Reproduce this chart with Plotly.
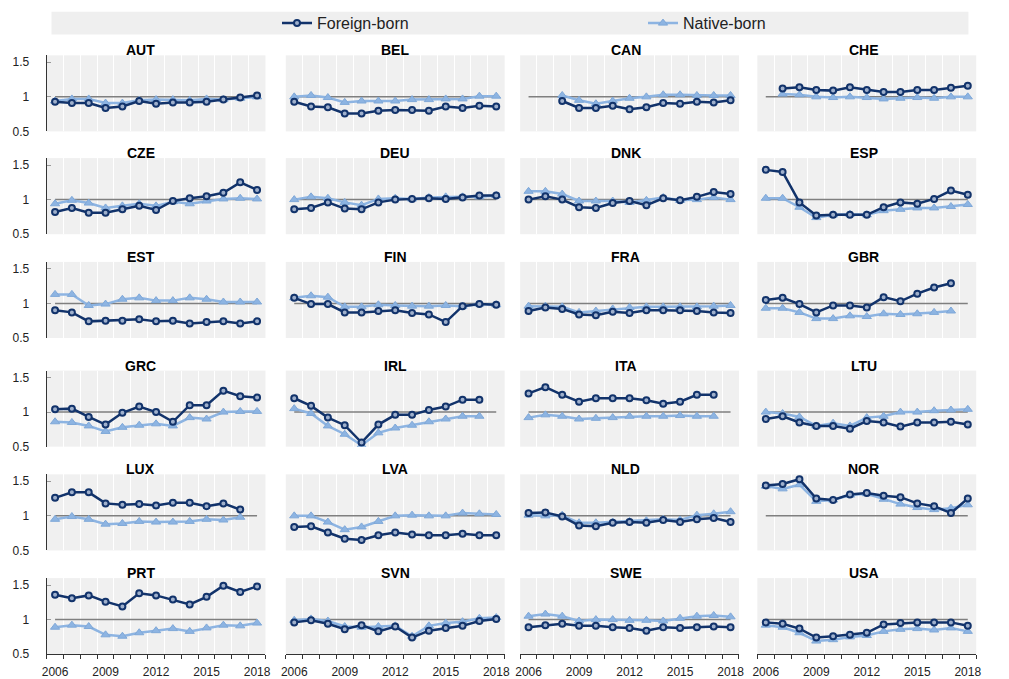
import plotly.graph_objects as go

W, H = 1009, 679

YEARS = list(range(2006, 2019))
COUNTRIES = ["AUT", "BEL", "CAN", "CHE", "CZE", "DEU", "DNK", "ESP",
             "EST", "FIN", "FRA", "GBR", "GRC", "IRL", "ITA", "LTU",
             "LUX", "LVA", "NLD", "NOR", "PRT", "SVN", "SWE", "USA"]
REF_LEVEL = 1.0
Y_TICKS = [0.5, 1, 1.5]
Y_TICK_TEXT = ["0.5", "1", "1.5"]
X_TICKS = [2006, 2009, 2012, 2015, 2018]

AUT_FOREIGN = [0.93, 0.91, 0.91, 0.84, 0.86, 0.94, 0.90, 0.92, 0.92, 0.93, 0.96, 0.99, 1.02]
AUT_NATIVE = [0.94, 0.97, 0.97, 0.91, 0.91, 0.95, 0.96, 0.96, 0.95, 0.97, 0.96, 0.98, 1.00]
BEL_FOREIGN = [0.93, 0.86, 0.85, 0.76, 0.76, 0.80, 0.81, 0.81, 0.80, 0.86, 0.84, 0.87, 0.86]
BEL_NATIVE = [1.00, 1.02, 0.99, 0.92, 0.94, 0.94, 0.94, 0.96, 0.96, 0.97, 0.97, 1.01, 1.01]
CAN_FOREIGN = [None, None, 0.94, 0.84, 0.84, 0.87, 0.82, 0.85, 0.91, 0.90, 0.93, 0.92, 0.95]
CAN_NATIVE = [None, None, 1.02, 0.95, 0.90, 0.94, 0.98, 1.00, 1.03, 1.03, 1.02, 1.02, 1.02]
CHE_FOREIGN = [None, 1.12, 1.14, 1.10, 1.09, 1.14, 1.10, 1.07, 1.07, 1.10, 1.10, 1.13, 1.16]
CHE_NATIVE = [None, 1.04, 1.03, 1.00, 0.99, 1.00, 0.99, 0.97, 0.98, 0.99, 0.98, 1.00, 1.00]
CZE_FOREIGN = [0.82, 0.88, 0.81, 0.81, 0.86, 0.91, 0.85, 0.98, 1.02, 1.05, 1.10, 1.25, 1.14]
CZE_NATIVE = [0.94, 0.99, 0.95, 0.88, 0.91, 0.94, 0.91, 0.97, 0.94, 0.98, 1.01, 1.02, 1.01]
DEU_FOREIGN = [0.86, 0.88, 0.96, 0.87, 0.86, 0.96, 1.00, 1.01, 1.02, 1.01, 1.03, 1.06, 1.06]
DEU_NATIVE = [1.00, 1.04, 1.02, 0.96, 0.92, 1.01, 1.02, 1.01, 1.03, 1.04, 1.04, 1.04, 1.06]
DNK_FOREIGN = [1.00, 1.05, 1.00, 0.89, 0.88, 0.95, 0.98, 0.92, 1.02, 0.99, 1.04, 1.11, 1.08]
DNK_NATIVE = [1.12, 1.12, 1.08, 0.98, 0.98, 0.98, 0.96, 0.99, 1.03, 0.99, 1.00, 1.03, 1.00]
ESP_FOREIGN = [1.43, 1.40, 0.96, 0.77, 0.78, 0.78, 0.78, 0.89, 0.96, 0.94, 1.01, 1.13, 1.07]
ESP_NATIVE = [1.02, 1.02, 0.89, 0.74, 0.78, 0.79, 0.78, 0.84, 0.86, 0.88, 0.88, 0.90, 0.93]
EST_FOREIGN = [0.90, 0.87, 0.74, 0.75, 0.75, 0.77, 0.74, 0.75, 0.71, 0.73, 0.74, 0.71, 0.74]
EST_NATIVE = [1.13, 1.13, 0.97, 0.99, 1.06, 1.08, 1.04, 1.04, 1.08, 1.06, 1.02, 1.02, 1.02]
FIN_FOREIGN = [1.08, 0.99, 0.99, 0.87, 0.87, 0.89, 0.90, 0.86, 0.84, 0.73, 0.96, 0.99, 0.98]
FIN_NATIVE = [1.08, 1.11, 1.09, 0.95, 0.95, 0.98, 0.97, 0.96, 0.96, 0.97, 0.96, 0.99, 0.98]
FRA_FOREIGN = [0.89, 0.94, 0.92, 0.84, 0.83, 0.88, 0.86, 0.90, 0.90, 0.90, 0.89, 0.87, 0.86]
FRA_NATIVE = [0.96, 0.96, 0.95, 0.87, 0.89, 0.92, 0.94, 0.95, 0.95, 0.95, 0.95, 0.96, 0.97]
GBR_FOREIGN = [1.05, 1.08, 0.99, 0.87, 0.97, 0.97, 0.94, 1.09, 1.03, 1.14, 1.23, 1.29, None]
GBR_NATIVE = [0.93, 0.93, 0.87, 0.78, 0.78, 0.82, 0.81, 0.85, 0.84, 0.85, 0.87, 0.89, None]
GRC_FOREIGN = [1.04, 1.05, 0.93, 0.82, 0.99, 1.08, 1.00, 0.86, 1.10, 1.10, 1.31, 1.23, 1.21]
GRC_NATIVE = [0.86, 0.85, 0.80, 0.72, 0.78, 0.81, 0.83, 0.80, 0.92, 0.90, 1.00, 1.01, 1.01]
IRL_FOREIGN = [1.20, 1.09, 0.92, 0.81, 0.56, 0.82, 0.96, 0.96, 1.03, 1.08, 1.18, 1.18, None]
IRL_NATIVE = [1.05, 0.98, 0.80, 0.68, 0.52, 0.70, 0.77, 0.81, 0.86, 0.90, 0.94, 0.94, None]
ITA_FOREIGN = [1.27, 1.36, 1.25, 1.15, 1.20, 1.20, 1.20, 1.17, 1.12, 1.15, 1.25, 1.25, None]
ITA_NATIVE = [0.92, 0.96, 0.94, 0.90, 0.91, 0.92, 0.94, 0.94, 0.94, 0.95, 0.94, 0.94, None]
LTU_FOREIGN = [0.90, 0.94, 0.85, 0.80, 0.80, 0.76, 0.87, 0.85, 0.79, 0.85, 0.85, 0.86, 0.82]
LTU_NATIVE = [1.00, 0.98, 0.93, 0.80, 0.84, 0.80, 0.92, 0.94, 1.00, 1.00, 1.02, 1.03, 1.04]
LUX_FOREIGN = [1.26, 1.34, 1.34, 1.18, 1.16, 1.17, 1.15, 1.19, 1.19, 1.14, 1.18, 1.09, None]
LUX_NATIVE = [0.95, 0.99, 0.95, 0.88, 0.89, 0.92, 0.91, 0.91, 0.92, 0.95, 0.94, 0.98, None]
LVA_FOREIGN = [0.84, 0.85, 0.76, 0.67, 0.65, 0.72, 0.76, 0.73, 0.72, 0.72, 0.74, 0.72, 0.72]
LVA_NATIVE = [1.00, 1.00, 0.91, 0.80, 0.84, 0.92, 1.00, 1.01, 1.00, 1.00, 1.04, 1.03, 1.02]
NLD_FOREIGN = [1.04, 1.05, 0.99, 0.86, 0.85, 0.90, 0.91, 0.90, 0.94, 0.91, 0.95, 0.97, 0.91]
NLD_NATIVE = [1.01, 1.00, 1.01, 0.90, 0.90, 0.91, 0.92, 0.93, 0.95, 0.94, 1.01, 1.03, 1.06]
NOR_FOREIGN = [1.44, 1.46, 1.53, 1.25, 1.23, 1.31, 1.33, 1.29, 1.27, 1.18, 1.14, 1.04, 1.25]
NOR_NATIVE = [1.43, 1.39, 1.45, 1.21, 1.23, 1.30, 1.32, 1.24, 1.17, 1.12, 1.09, 1.11, 1.16]
PRT_FOREIGN = [1.36, 1.31, 1.35, 1.26, 1.19, 1.38, 1.35, 1.29, 1.22, 1.33, 1.49, 1.40, 1.48]
PRT_NATIVE = [0.89, 0.92, 0.90, 0.78, 0.76, 0.81, 0.84, 0.87, 0.83, 0.88, 0.92, 0.91, 0.95]
SVN_FOREIGN = [0.96, 0.99, 0.94, 0.86, 0.92, 0.83, 0.90, 0.74, 0.84, 0.88, 0.91, 0.98, 1.01]
SVN_NATIVE = [0.99, 1.01, 0.98, 0.90, 0.89, 0.90, 0.91, 0.76, 0.91, 0.95, 0.97, 1.02, 1.03]
SWE_FOREIGN = [0.89, 0.92, 0.94, 0.91, 0.91, 0.89, 0.88, 0.84, 0.89, 0.88, 0.89, 0.90, 0.89]
SWE_NATIVE = [1.05, 1.08, 1.05, 0.98, 1.00, 1.00, 0.99, 0.99, 0.98, 1.02, 1.05, 1.06, 1.04]
USA_FOREIGN = [0.96, 0.94, 0.87, 0.74, 0.76, 0.78, 0.81, 0.93, 0.95, 0.96, 0.96, 0.96, 0.91]
USA_NATIVE = [0.92, 0.89, 0.81, 0.69, 0.71, 0.75, 0.77, 0.83, 0.86, 0.87, 0.85, 0.88, 0.83]

g = globals()
FOREIGN = [g[c + "_FOREIGN"] for c in COUNTRIES]
NATIVE = [g[c + "_NATIVE"] for c in COUNTRIES]

DARK = "#12336B"
LIGHT = "#8DB4E2"
REF_COLOR = "#7F7F7F"
FONT = "Liberation Sans, Arial, sans-serif"

COL_X0 = [43, 290, 532, 777]
COL_W = 226
ROW_BOTTOM = [133, 237, 342, 452, 557, 662]
ROW_H = 77
TITLE_X = [140, 403, 641, 887]

fig = go.Figure()
layout = {}
annotations = []

for i, c in enumerate(COUNTRIES):
    r, col = divmod(i, 4)
    n = i + 1
    xa = "x" if n == 1 else f"x{n}"
    ya = "y" if n == 1 else f"y{n}"
    first = (i == 0)
    fig.add_trace(go.Scatter(x=YEARS, y=[REF_LEVEL] * len(YEARS), mode="lines",
                             line=dict(color=REF_COLOR, width=1.5),
                             xaxis=xa, yaxis=ya, showlegend=False, hoverinfo="skip"))
    fig.add_trace(go.Scatter(x=YEARS, y=NATIVE[i], mode="lines+markers", name="Native-born",
                             line=dict(color=LIGHT, width=2.5),
                             marker=dict(symbol="triangle-up", size=8, color=LIGHT,
                                         line=dict(color="#7FA8D8", width=1)),
                             xaxis=xa, yaxis=ya, showlegend=first, legendrank=2))
    fig.add_trace(go.Scatter(x=YEARS, y=FOREIGN[i], mode="lines+markers", name="Foreign-born",
                             line=dict(color=DARK, width=2.5),
                             marker=dict(symbol="circle", size=6, color="#9FB0CC",
                                         line=dict(color=DARK, width=2)),
                             xaxis=xa, yaxis=ya, showlegend=first, legendrank=1))

    x0 = COL_X0[col]
    yb = ROW_BOTTOM[r]
    bottom = (r == 5)
    left = (col == 0)
    layout["xaxis" if n == 1 else f"xaxis{n}"] = dict(
        domain=[x0 / W, (x0 + COL_W) / W], anchor=ya, range=[2005.5, 2018.5],
        showgrid=False, zeroline=False, tickvals=X_TICKS,
        ticktext=[str(v) for v in X_TICKS],
        showticklabels=bottom, showline=bottom, linecolor="#333333", linewidth=1,
        ticks="outside" if bottom else "", ticklen=0, ticklabelstandoff=6,
        tickfont=dict(size=12, color="#222222", family=FONT),
        minor=dict(tick0=2005.5, dtick=1, showgrid=True, gridcolor="white", gridwidth=1,
                   ticks="outside" if bottom else "", ticklen=4, tickcolor="#333333"),
        fixedrange=True)
    layout["yaxis" if n == 1 else f"yaxis{n}"] = dict(
        domain=[1 - yb / H, 1 - (yb - ROW_H) / H], anchor=xa, range=[0.5, 1.6],
        showgrid=False, zeroline=False, tickvals=Y_TICKS, ticktext=Y_TICK_TEXT,
        showticklabels=left, showline=left, linecolor="#333333", linewidth=1,
        ticks="inside" if left else "", ticklen=4, tickcolor="#999999",
        ticklabelstandoff=14,
        tickfont=dict(size=12, color="#222222", family=FONT), fixedrange=True)
    annotations.append(dict(text=f"<b>{c}</b>", x=TITLE_X[col] / W, y=1 - (yb - ROW_H - 5) / H,
                            xref="paper", yref="paper", showarrow=False,
                            xanchor="center", yanchor="middle",
                            font=dict(size=14, color="#000000", family=FONT)))

fig.update_layout(
    width=W, height=H, margin=dict(l=0, r=0, t=0, b=0),
    paper_bgcolor="white", plot_bgcolor="#F0F0F0",
    font=dict(family=FONT),
    annotations=annotations,
    shapes=[dict(type="rect", xref="paper", yref="paper",
                 x0=48 / W, x1=995 / W, y0=1 - 35 / H, y1=1 - 12 / H,
                 fillcolor="#EFEFEF", line=dict(width=0), layer="below")],
    legend=dict(orientation="h", x=281 / W, y=1 - 23.5 / H, xanchor="left", yanchor="middle",
                bgcolor="rgba(0,0,0,0)", font=dict(size=16, color="#222222", family=FONT),
                entrywidth=321, entrywidthmode="pixels", traceorder="normal",
                itemwidth=30),
    **layout,
)

fig.write_html("out.html")
